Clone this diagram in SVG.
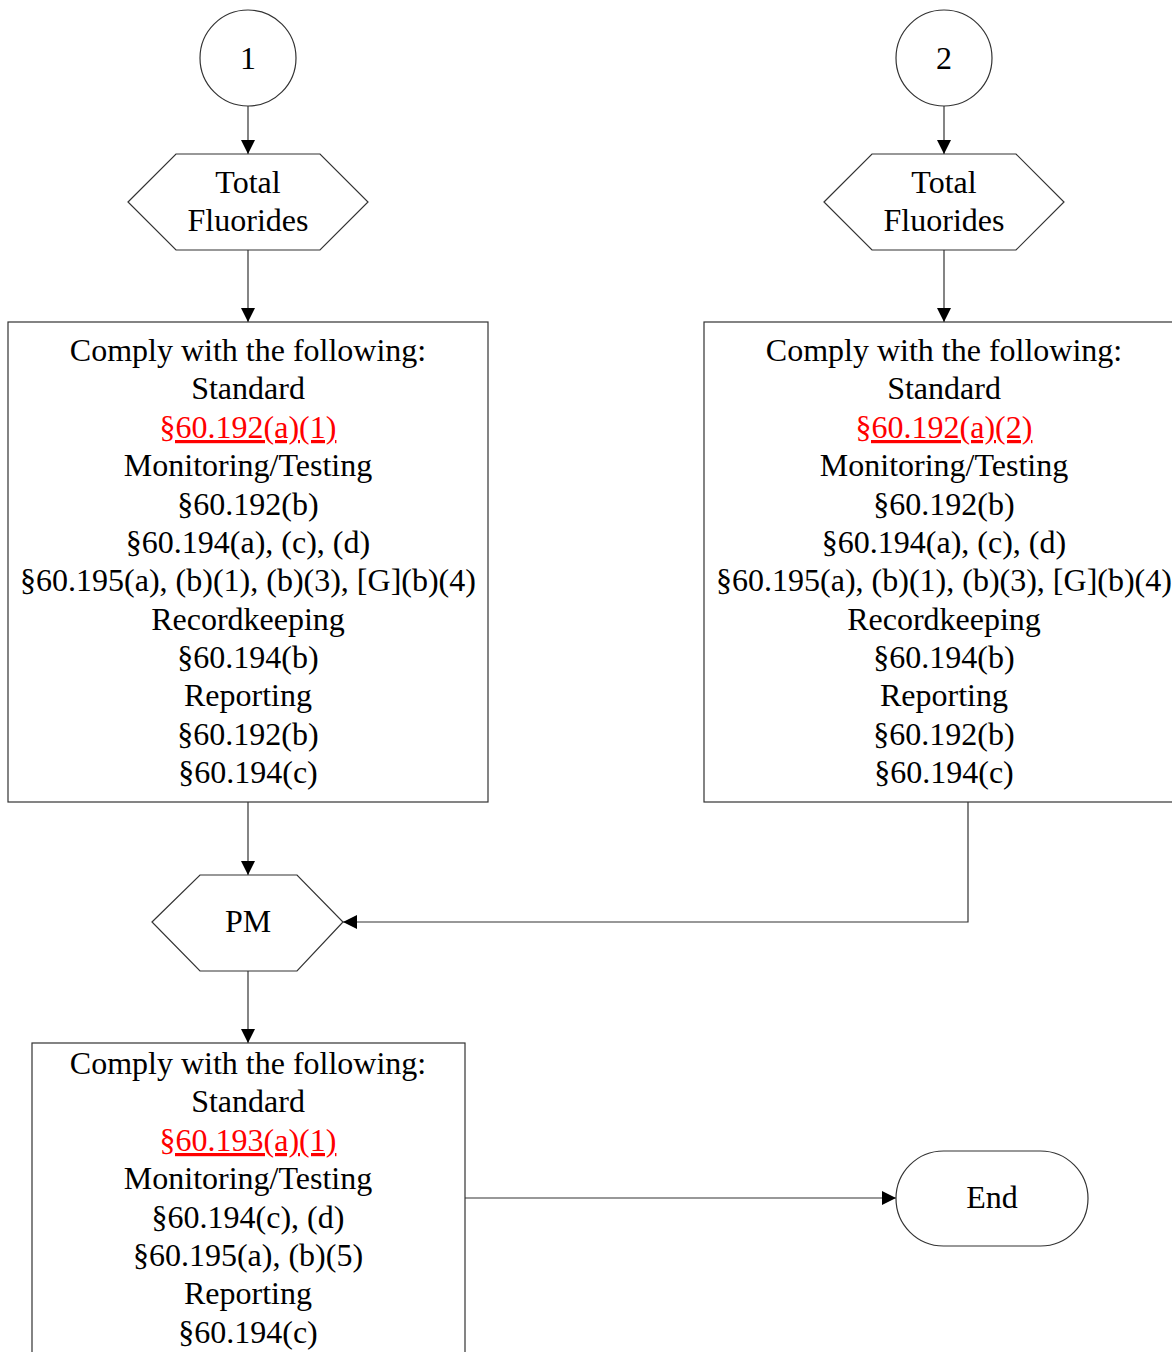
<svg xmlns="http://www.w3.org/2000/svg" width="1172" height="1352" viewBox="0 0 1172 1352">
<style>
.s{fill:#fff;stroke:#333;stroke-width:1.2}
text{font-family:"Liberation Serif","Times New Roman",serif;font-size:32px;fill:#000;text-anchor:middle}
.r{fill:#f00;text-decoration:underline}
.c{fill:none;stroke:#333;stroke-width:1.2}
</style>
<defs>
<marker id="a" viewBox="0 0 14 14" refX="14" refY="7" markerWidth="14" markerHeight="14" markerUnits="userSpaceOnUse" orient="auto">
<path d="M0,0L14,7L0,14z" fill="#000"/>
</marker>
</defs>
<rect width="1172" height="1352" fill="#fff"/>
<g id="connectors">
<path class="c" d="M248,106V154" marker-end="url(#a)"/>
<path class="c" d="M944,106V154" marker-end="url(#a)"/>
<path class="c" d="M248,250V322" marker-end="url(#a)"/>
<path class="c" d="M944,250V322" marker-end="url(#a)"/>
<path class="c" d="M248,802V875" marker-end="url(#a)"/>
<path class="c" d="M968,802V922H343" marker-end="url(#a)"/>
<path class="c" d="M248,971V1043" marker-end="url(#a)"/>
<path class="c" d="M465,1198H896" marker-end="url(#a)"/>
</g>
<g id="n1"><circle class="s" cx="248" cy="58" r="48"/><text x="248" y="69">1</text></g>
<g id="n2"><circle class="s" cx="944" cy="58" r="48"/><text x="944" y="69">2</text></g>
<g id="tf1"><polygon class="s" points="128,202 176,154 320,154 368,202 320,250 176,250"/><text x="248" y="193">Total</text><text x="248" y="231">Fluorides</text></g>
<g id="tf2"><polygon class="s" points="824,202 872,154 1016,154 1064,202 1016,250 872,250"/><text x="944" y="193">Total</text><text x="944" y="231">Fluorides</text></g>
<g id="box1"><rect class="s" x="8" y="322" width="480" height="480"/>
<text x="248" y="361">Comply with the following:</text>
<text x="248" y="399">Standard</text>
<text x="248" y="438" class="r">§60.192(a)(1)</text>
<text x="248" y="476">Monitoring/Testing</text>
<text x="248" y="515">§60.192(b)</text>
<text x="248" y="553">§60.194(a), (c), (d)</text>
<text x="248" y="591">§60.195(a), (b)(1), (b)(3), [G](b)(4)</text>
<text x="248" y="630">Recordkeeping</text>
<text x="248" y="668">§60.194(b)</text>
<text x="248" y="706">Reporting</text>
<text x="248" y="745">§60.192(b)</text>
<text x="248" y="783">§60.194(c)</text>
</g>
<g id="box2"><rect class="s" x="704" y="322" width="480" height="480"/>
<text x="944" y="361">Comply with the following:</text>
<text x="944" y="399">Standard</text>
<text x="944" y="438" class="r">§60.192(a)(2)</text>
<text x="944" y="476">Monitoring/Testing</text>
<text x="944" y="515">§60.192(b)</text>
<text x="944" y="553">§60.194(a), (c), (d)</text>
<text x="944" y="591">§60.195(a), (b)(1), (b)(3), [G](b)(4)</text>
<text x="944" y="630">Recordkeeping</text>
<text x="944" y="668">§60.194(b)</text>
<text x="944" y="706">Reporting</text>
<text x="944" y="745">§60.192(b)</text>
<text x="944" y="783">§60.194(c)</text>
</g>
<g id="pm"><polygon class="s" points="152,922 200,875 297,875 343,922 297,971 200,971"/><text x="248" y="932">PM</text></g>
<g id="box3"><rect class="s" x="32" y="1043" width="433" height="330"/>
<text x="248" y="1074">Comply with the following:</text>
<text x="248" y="1112">Standard</text>
<text x="248" y="1151" class="r">§60.193(a)(1)</text>
<text x="248" y="1189">Monitoring/Testing</text>
<text x="248" y="1228">§60.194(c), (d)</text>
<text x="248" y="1266">§60.195(a), (b)(5)</text>
<text x="248" y="1304">Reporting</text>
<text x="248" y="1343">§60.194(c)</text>
</g>
<g id="end"><rect class="s" x="896" y="1151" width="192" height="95" rx="47.5" ry="47.5"/><text x="992" y="1208">End</text></g>
</svg>
